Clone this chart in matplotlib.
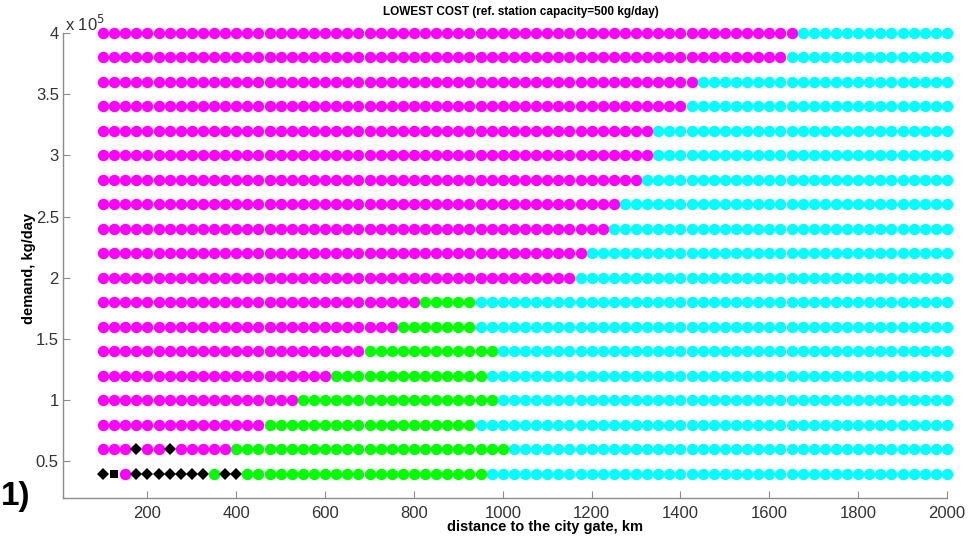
import numpy as np
import matplotlib
matplotlib.use("Agg")
import matplotlib.pyplot as plt

plt.rcParams['font.family'] = ['Liberation Sans', 'DejaVu Sans']

# distance to the city gate (km), one column of markers each
distance = np.arange(100, 2001, 25)
# demand rows (kg/day)
demand = [40000, 60000, 80000, 100000, 120000, 140000, 160000, 180000, 200000,
          220000, 240000, 260000, 280000, 300000, 320000, 340000, 360000,
          380000, 400000]
# last distance that is magenta in each row, last distance that is green
magenta_last = [150, 375, 450, 525, 600, 675, 750, 800, 1150,
                1175, 1225, 1250, 1300, 1325, 1325, 1400, 1425, 1625, 1650]
green_last = [950, 1000, 925, 975, 950, 975, 925, 925, 1150,
              1175, 1225, 1250, 1300, 1325, 1325, 1400, 1425, 1625, 1650]
# odd points at low demand
diamond_pts = [(100, 40000), (175, 40000), (200, 40000), (225, 40000),
               (250, 40000), (275, 40000), (300, 40000), (325, 40000),
               (375, 40000), (400, 40000), (175, 60000), (250, 60000)]
square_pts = [(125, 40000)]
green_pts = [(350, 40000)]

cls = {}
for d, m_end, g_end in zip(demand, magenta_last, green_last):
    for x in distance:
        if x <= m_end:
            cls[(x, d)] = 'M'
        elif x <= g_end:
            cls[(x, d)] = 'G'
        else:
            cls[(x, d)] = 'C'
for p in diamond_pts:
    cls[p] = 'D'
for p in square_pts:
    cls[p] = 'S'
for p in green_pts:
    cls[p] = 'G'

styles = {
    'M': dict(marker='o', color='#ff00ff', ms=8.2),
    'G': dict(marker='o', color='#00ff00', ms=8.2),
    'C': dict(marker='o', color='#00ffff', ms=8.2),
    'D': dict(marker='D', color='black', ms=6.0),
    'S': dict(marker='s', color='black', ms=6.0),
}

fig = plt.figure(figsize=(9.8, 5.37), dpi=100)
ax = fig.add_axes([0.0643, 0.0726, 0.9020, 0.8660])

for key, st in styles.items():
    pts = [p for p, c in cls.items() if c == key]
    xs = [p[0] for p in pts]
    ys = [p[1] / 1e5 for p in pts]
    ax.plot(xs, ys, linestyle='none', marker=st['marker'], ms=st['ms'],
            color=st['color'], mec=st['color'], mew=0, clip_on=False)

ax.set_xlim(10, 2000)
ax.set_ylim(0.2, 4.0)
ax.set_xticks([200, 400, 600, 800, 1000, 1200, 1400, 1600, 1800, 2000])
ax.set_yticks([0.5, 1, 1.5, 2, 2.5, 3, 3.5, 4])
ax.set_yticklabels(['0.5', '1', '1.5', '2', '2.5', '3', '3.5', '4'])

for s in ['top', 'right']:
    ax.spines[s].set_visible(False)
for s in ['left', 'bottom']:
    ax.spines[s].set_color('#8c8c8c')
    ax.spines[s].set_linewidth(1.0)
ax.tick_params(direction='in', length=5, color='#8c8c8c', labelcolor='#333333',
               labelsize=12)
ax.tick_params(axis='x', pad=6)
ax.tick_params(axis='y', pad=3)

fig.text(0.531, 0.977, 'LOWEST COST (ref. station capacity=500 kg/day)',
         ha='center', va='center', fontsize=8.5, fontweight='bold')
fig.text(0.556, 0.018, 'distance to the city gate, km', ha='center', va='center',
         fontsize=10.5, fontweight='bold')
fig.text(0.030, 0.50, 'demand, kg/day', ha='center', va='center',
         rotation=90, fontsize=10.5, fontweight='bold')
fig.text(0.066, 0.955, r'x 10$^{5}$', ha='left', va='center', fontsize=12,
         color='#333333')
fig.text(0.001, 0.075, '1)', ha='left', va='center', fontsize=24,
         fontweight='bold')

fig.savefig('out.png', dpi=100)
